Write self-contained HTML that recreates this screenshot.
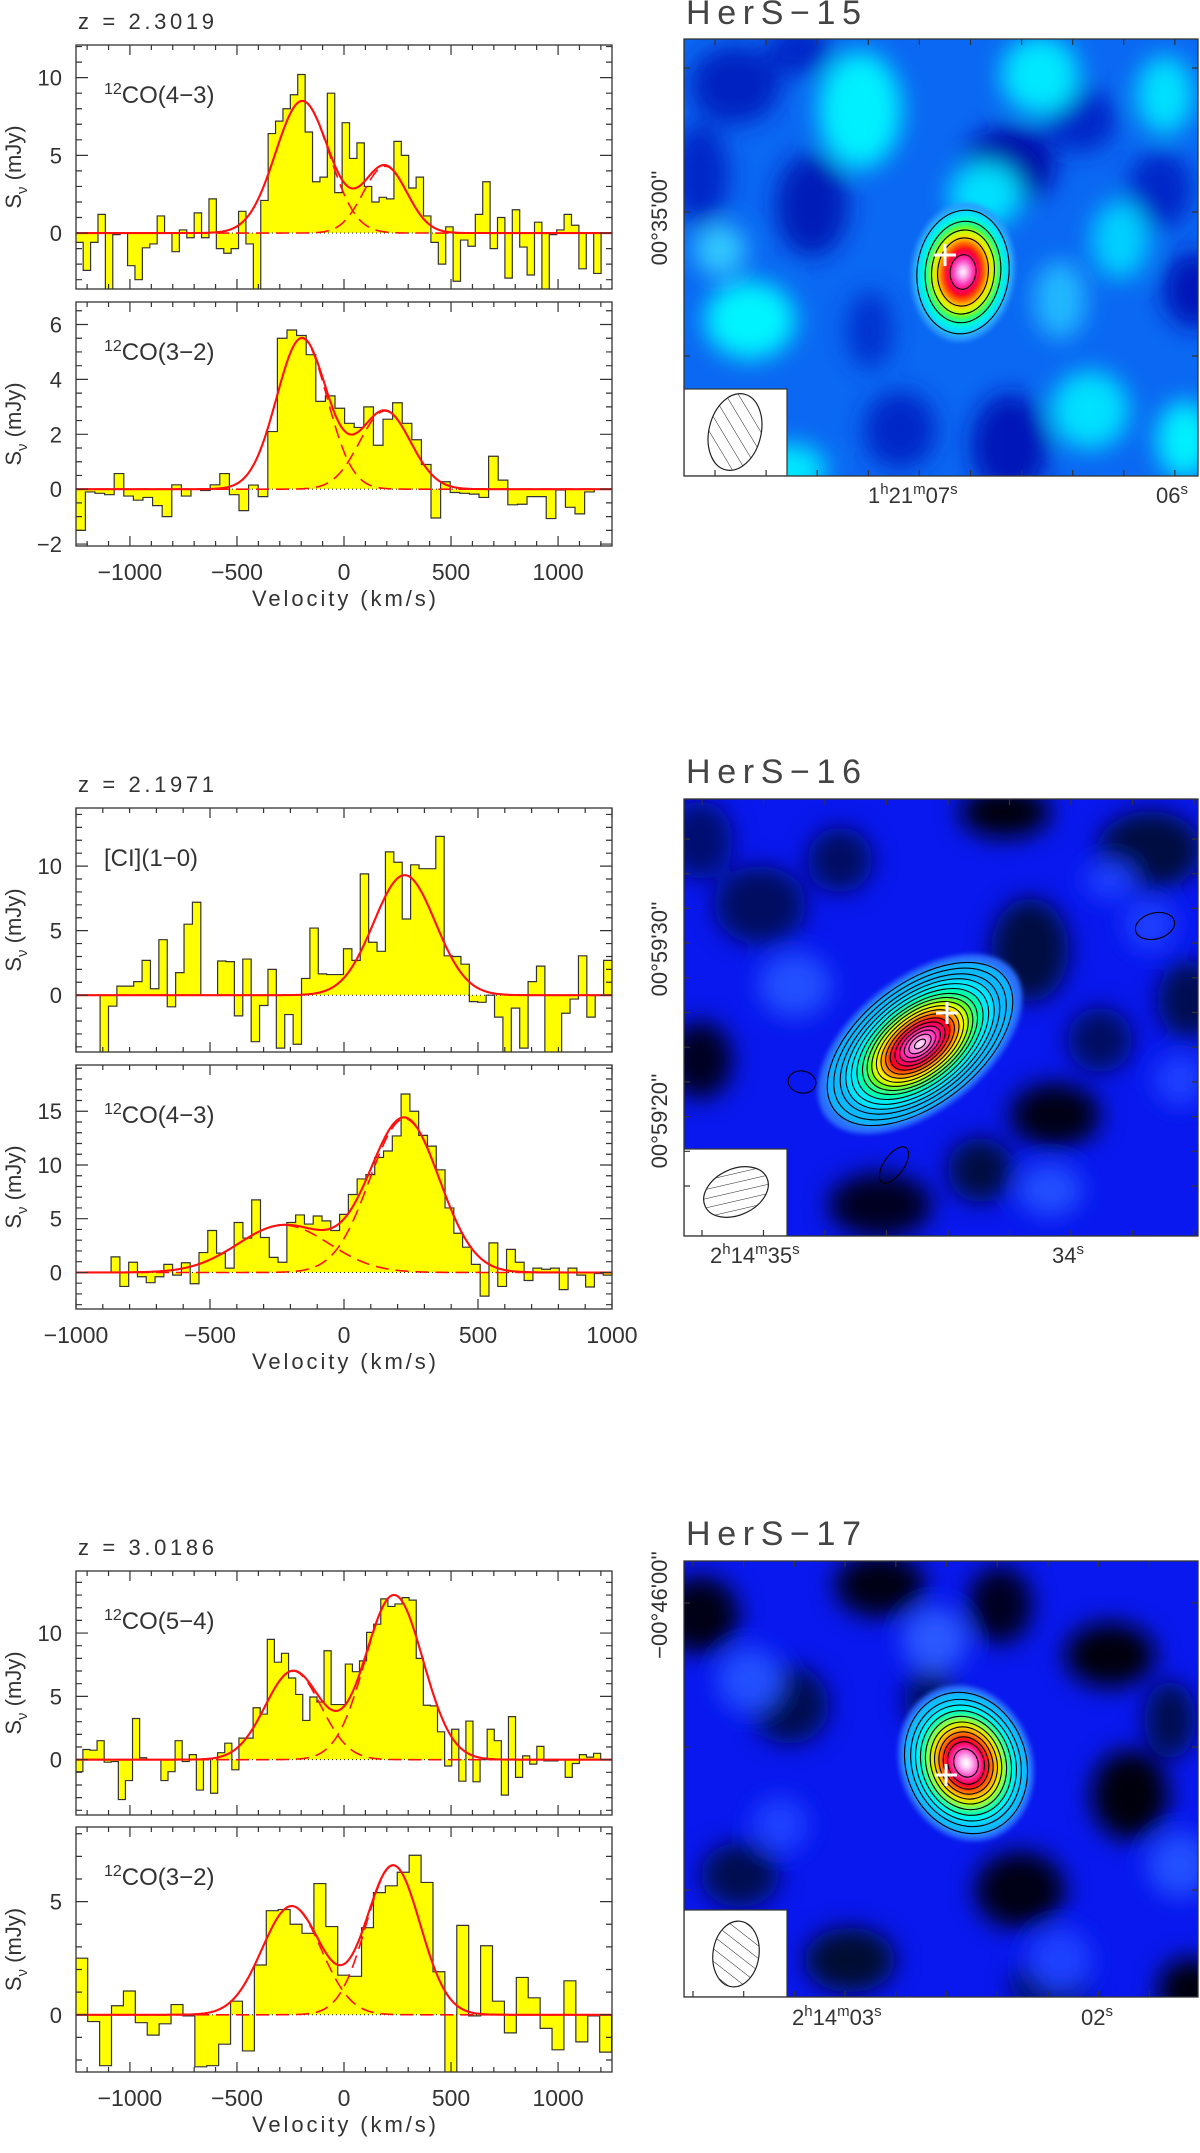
<!DOCTYPE html>
<html><head><meta charset="utf-8"><title>HerS spectra and maps</title>
<style>
html,body{margin:0;padding:0;background:#fff;}
svg{display:block;font-family:"Liberation Sans",sans-serif;}
</style></head>
<body>
<svg id="fig" width="1200" height="2153" viewBox="0 0 1200 2153" xmlns="http://www.w3.org/2000/svg">
<defs>
<filter id="blurBig" x="-20%" y="-20%" width="140%" height="140%"><feGaussianBlur stdDeviation="12"/></filter>
<filter id="blurSmall" x="-20%" y="-20%" width="140%" height="140%"><feGaussianBlur stdDeviation="2.5"/></filter>
<pattern id="hatchA" patternUnits="userSpaceOnUse" width="11" height="11" patternTransform="rotate(-45)"><line x1="0" y1="0" x2="0" y2="11" stroke="#222" stroke-width="1"/></pattern>
<pattern id="hatchB" patternUnits="userSpaceOnUse" width="9" height="9" patternTransform="rotate(-78)"><line x1="0" y1="0" x2="0" y2="9" stroke="#222" stroke-width="1"/></pattern>
<pattern id="hatchC" patternUnits="userSpaceOnUse" width="10" height="10" patternTransform="rotate(-60)"><line x1="0" y1="0" x2="0" y2="10" stroke="#222" stroke-width="1"/></pattern>
</defs>
</svg>
<script>
// ---------------- DATA ----------------
// HerS-15 (z=2.3019)
const hers15_co43_vals = [-0.6,-2.4,-0.6,1.2,-4,-0.1,0,-2.1,-3.0,-0.95,-0.7,1.1,0,-1.2,0.2,-0.3,1.3,-0.3,2.2,-1.0,-1.3,-1.0,1.4,-0.7,-4,2.1,6.4,7.2,8.0,8.9,10.2,6.5,3.3,3.6,9.0,2.6,7.1,4.8,5.8,3.0,2.0,2.3,2.2,5.9,5.0,2.9,3.6,1.1,-0.6,-2.0,0.4,-3.1,-0.45,-0.85,1.2,3.3,-1.0,1.0,-2.9,1.5,-0.9,-2.7,0.7,-4,-0.1,0.2,1.2,0.5,-2.3,0,-2.6];
const hers15_co43_vrange = [-1253, 1201];
const hers15_co43_fitCenters = [-195, 192];
const hers15_co43_fitAmps = [8.5, 4.3];
const hers15_co43_fitSigmas = [125, 102];

const hers15_co32_vals = [-1.5,-0.1,-0.15,-0.2,0.57,-0.25,-0.4,-0.3,-0.6,-1.0,0.16,-0.25,0,-0.05,0.16,0.57,-0.2,-0.78,0.15,-0.27,2.1,5.5,5.8,5.6,4.9,3.2,3.4,2.95,2.4,2.25,3.0,1.6,2.55,3.15,2.4,1.8,0.9,-1.05,0.27,-0.12,-0.15,-0.18,-0.3,1.2,0.33,-0.57,-0.55,-0.27,-0.27,-1.07,-0.03,-0.66,-0.9,-0.1];
const hers15_co32_vrange = [-1253, 1169];
const hers15_co32_fitCenters = [-197, 192];
const hers15_co32_fitAmps = [5.5, 2.85];
const hers15_co32_fitSigmas = [118, 119];

// HerS-16 (z=2.1971)
const hers16_ci10_vals = [-4.6,-0.85,0.7,0.7,1.05,2.7,0.5,4.3,-0.9,1.75,5.5,7.2,0,0,2.65,2.6,-1.6,2.8,-3.6,-0.8,2.0,-4.1,-1.5,-3.8,1.3,5.2,1.65,1.6,1.6,3.6,2.7,9.4,4.1,3.4,11.1,10.3,5.9,10.1,9.8,9.8,12.3,3.05,3.0,2.4,-0.5,-0.55,0,-1.7,-4.6,-1.0,-4.1,1.05,2.25,-4.6,-4.6,-1.4,-0.3,3.05,-1.7,0,2.7];
const hers16_ci10_vrange = [-910, 1000];
const hers16_ci10_fitCenters = [226];
const hers16_ci10_fitAmps = [9.3];
const hers16_ci10_fitSigmas = [115];

const hers16_co43_vals = [1.45,-1.3,0.95,-0.4,-0.95,-0.4,0.75,-0.25,0.9,-1.05,1.85,3.9,1.8,0.4,4.65,3.2,6.75,3.25,1.4,0.95,4.65,5.35,4.5,5.25,4.8,3.9,5.4,7.25,8.7,9.1,10.7,11.3,12.7,16.6,15.0,12.75,11.75,9.55,6.0,3.65,2.35,0.75,-2.2,2.75,-1.3,2.15,0.95,-0.75,0.4,0.3,0.4,-1.6,0.4,-0.25,-1.35,-0.1,-0.25];
const hers16_co43_vrange = [-869, 1000];
const hers16_co43_fitCenters = [-225, 226];
const hers16_co43_fitAmps = [4.4, 14.3];
const hers16_co43_fitSigmas = [170, 130];

// HerS-17 (z=3.0186)
const hers17_co54_vals = [-0.95,0.8,0.75,1.5,-0.2,-0.15,-3.15,-1.65,3.25,0.15,0,0,-1.65,-0.95,1.5,-0.15,0.4,-2.4,0.05,-2.65,0.55,1.3,-0.8,1.7,1.7,4.1,3.6,9.5,7.7,8.4,6.45,5.15,3.1,4.95,4.55,8.6,4.35,4.35,7.55,6.95,7.8,10.05,10.7,12.7,12.1,12.3,12.8,12.6,8.0,4.3,4.25,2.2,-0.5,2.4,-1.7,3.05,-1.75,0,2.4,1.5,-2.8,3.4,-1.4,0.3,-0.35,1.05,-0.1,-0.1,0,-1.4,-0.3,0.4,0.2,0.5];
const hers17_co54_vrange = [-1253, 1199];
const hers17_co54_fitCenters = [-238, 234];
const hers17_co54_fitAmps = [7.0, 13.0];
const hers17_co54_fitSigmas = [130, 135];

const hers17_co32_vals = [2.5,-0.3,-2.25,0.4,1.05,-0.35,-0.9,-0.4,0.45,-0.05,-2.3,-2.25,-1.3,0.6,-1.6,2.2,4.6,4.65,4.0,3.6,5.8,3.9,1.75,1.7,3.85,5.4,5.7,6.3,7.05,5.85,1.9,-2.6,3.95,-0.05,3.05,0.6,-0.8,1.65,0.75,-0.6,-1.55,1.5,-1.2,-0.05,-1.65];
const hers17_co32_vrange = [-1253, 1250];
const hers17_co32_fitCenters = [-245, 230];
const hers17_co32_fitAmps = [4.8, 6.6];
const hers17_co32_fitSigmas = [138, 126];

// tick labels
const xTickLabelsWide = [-1000, -500, 0, 500, 1000];
const xTickLabelsNarrow = [-1000, -500, 0, 500, 1000];

// ---------------- DRAWING ----------------
const NS = 'http://www.w3.org/2000/svg';
const svg = document.getElementById('fig');
function mk(tag, attrs, parent) {
  const e = document.createElementNS(NS, tag);
  for (const k in attrs) e.setAttribute(k, attrs[k]);
  (parent || svg).appendChild(e);
  return e;
}
const INK = '#333';
const PX0 = 76, PX1 = 612;
let clipN = 0;

function fmt(v){ return (v < 0 ? '\u2212' + Math.abs(v) : '' + v); }

function panel(cfg) {
  const g = mk('g', {});
  
  
  const xs = v => PX0 + (v - cfg.xmin) / (cfg.xmax - cfg.xmin) * (PX1 - PX0);
  const ys = v => cfg.bottom - (v - cfg.ymin) / (cfg.ymax - cfg.ymin) * (cfg.bottom - cfg.top);
  const cid = 'clip' + (clipN++);
  const cp = mk('clipPath', {id: cid}, g);
  mk('rect', {x: PX0, y: cfg.top, width: PX1 - PX0, height: cfg.bottom - cfg.top}, cp);
  const inner = mk('g', {'clip-path': 'url(#' + cid + ')'}, g);

  const vals = cfg.vals, n = vals.length;
  const w = (cfg.vrange[1] - cfg.vrange[0]) / n;
  const y0 = ys(0);
  let d = '';
  for (let i = 0; i < n; i++) {
    const a = xs(cfg.vrange[0] + i * w), b = xs(cfg.vrange[0] + (i + 1) * w);
    const yv = ys(vals[i]);
    const r = mk('rect', {x: a, y: Math.min(yv, y0), width: b - a + 0.3, height: Math.abs(yv - y0), fill: '#ffff00'}, inner);
    
    
    d += (i === 0 ? 'M' + a + ',' + y0 + ' V' + yv : ' V' + yv) + ' H' + b;
  }
  d += ' V' + y0;
  const outline = mk('path', {d: d, fill: 'none', stroke: INK, 'stroke-width': 1.2}, inner);
  
  

  const zl = mk('line', {x1: PX0, x2: PX1, y1: y0, y2: y0, stroke: '#222', 'stroke-width': 1, 'stroke-dasharray': '1 3'}, inner);
  
  

  const C = cfg.fc, A = cfg.fa, S = cfg.fs;
  const gauss = (k, v) => A[k] * Math.exp(-((v - C[k]) ** 2) / (2 * S[k] * S[k]));
  for (let k = 0; k < C.length; k++) {
    let pd = '';
    for (let v = cfg.xmin; v <= cfg.xmax; v += 5) pd += (pd ? ' L' : 'M') + xs(v).toFixed(1) + ',' + ys(gauss(k, v)).toFixed(1);
    const comp = mk('path', {d: pd, fill: 'none', stroke: '#ff1010', 'stroke-width': 1.6, 'stroke-dasharray': '13 7'}, inner);
    
    
  }
  let td = '';
  for (let v = cfg.xmin; v <= cfg.xmax; v += 4) {
    let s = 0; for (let k = 0; k < C.length; k++) s += gauss(k, v);
    td += (td ? ' L' : 'M') + xs(v).toFixed(1) + ',' + ys(s).toFixed(1);
  }
  const tot = mk('path', {d: td, fill: 'none', stroke: '#ff1010', 'stroke-width': 2.1}, inner);
  
  

  const fr = mk('rect', {x: PX0, y: cfg.top, width: PX1 - PX0, height: cfg.bottom - cfg.top, fill: 'none', stroke: INK, 'stroke-width': 1.3}, g);
  
  

  let tk = '';
  const xstart = Math.ceil(cfg.xmin / 100) * 100;
  for (let v = xstart; v <= cfg.xmax; v += 100) {
    const x = xs(v), L = (v % 500 === 0) ? 10 : 5;
    tk += 'M' + x + ',' + cfg.bottom + ' v' + (-L) + ' M' + x + ',' + cfg.top + ' v' + L + ' ';
  }
  const ystart = Math.ceil(cfg.ymin / cfg.yminor) * cfg.yminor;
  for (let v = ystart; v <= cfg.ymax + 1e-9; v += cfg.yminor) {
    const vv = Math.round(v * 100) / 100;
    const isMaj = cfg.ymajor.some(m => Math.abs(m - vv) < 1e-6);
    const y = ys(vv), L = isMaj ? 12 : 6;
    tk += 'M' + PX0 + ',' + y + ' h' + L + ' M' + PX1 + ',' + y + ' h' + (-L) + ' ';
  }
  const tp = mk('path', {d: tk, stroke: INK, 'stroke-width': 1.2, fill: 'none'}, g);
  
  

  cfg.ymajor.forEach(m => {
    const t = mk('text', {x: 62, y: ys(m) + 8, 'text-anchor': 'end', 'font-size': 22, fill: INK}, g);
    t.textContent = fmt(m);
    
    
  });
  const yc = (cfg.top + cfg.bottom) / 2;
  const yt = mk('text', {x: 0, y: 0, transform: 'translate(21,' + yc + ') rotate(-90)', 'text-anchor': 'middle', 'font-size': 22, fill: INK}, g);
  yt.innerHTML = 'S<tspan font-size="15" dy="6">\u03BD</tspan><tspan dy="-6"> (mJy)</tspan>';
  
  
  const ll = mk('text', {x: 104, y: cfg.top + 58, 'font-size': 24, fill: INK}, g);
  ll.innerHTML = cfg.label;
  
  

  if (cfg.xlabels) {
    cfg.xlabels.forEach(v => {
      const t = mk('text', {x: xs(v), y: cfg.bottom + 34, 'text-anchor': 'middle', 'font-size': 23, fill: INK}, g);
      t.textContent = fmt(v);
      
      
    });
    const xt = mk('text', {x: 344, y: cfg.bottom + 60, 'text-anchor': 'middle', 'font-size': 22, fill: INK, textLength: 184, lengthAdjust: 'spacing'}, g);
    xt.textContent = 'Velocity (km/s)';
    
    
  }
}

function zlabel(y, txt) {
  const t = mk('text', {x: 78, y: y, 'font-size': 22, fill: INK, textLength: 136, lengthAdjust: 'spacing'});
  t.textContent = txt;
  
  
}

const L12 = s => '<tspan font-size="16" dy="-9">12</tspan><tspan dy="9">' + s + '</tspan>';

zlabel(29, 'z = 2.3019');
panel({name: 'hers15-co43-panel', top: 45, bottom: 289, xmin: -1252, xmax: 1252, ymin: -3.6, ymax: 12.1, ymajor: [0,5,10], yminor: 1,
  vals: hers15_co43_vals, vrange: hers15_co43_vrange, fc: hers15_co43_fitCenters, fa: hers15_co43_fitAmps, fs: hers15_co43_fitSigmas, label: L12('CO(4\u22123)')});
panel({name: 'hers15-co32-panel', top: 302, bottom: 546, xmin: -1252, xmax: 1252, ymin: -2.07, ymax: 6.82, ymajor: [-2,0,2,4,6], yminor: 0.5,
  vals: hers15_co32_vals, vrange: hers15_co32_vrange, fc: hers15_co32_fitCenters, fa: hers15_co32_fitAmps, fs: hers15_co32_fitSigmas, label: L12('CO(3\u22122)'), xlabels: xTickLabelsWide});
zlabel(792, 'z = 2.1971');
panel({name: 'hers16-ci10-panel', top: 808, bottom: 1052, xmin: -1000, xmax: 1000, ymin: -4.4, ymax: 14.5, ymajor: [0,5,10], yminor: 1,
  vals: hers16_ci10_vals, vrange: hers16_ci10_vrange, fc: hers16_ci10_fitCenters, fa: hers16_ci10_fitAmps, fs: hers16_ci10_fitSigmas, label: '[CI](1\u22120)'});
panel({name: 'hers16-co43-panel', top: 1065, bottom: 1309, xmin: -1000, xmax: 1000, ymin: -3.4, ymax: 19.3, ymajor: [0,5,10,15], yminor: 1,
  vals: hers16_co43_vals, vrange: hers16_co43_vrange, fc: hers16_co43_fitCenters, fa: hers16_co43_fitAmps, fs: hers16_co43_fitSigmas, label: L12('CO(4\u22123)'), xlabels: xTickLabelsNarrow});
zlabel(1555, 'z = 3.0186');
panel({name: 'hers17-co54-panel', top: 1571, bottom: 1815, xmin: -1252, xmax: 1252, ymin: -4.37, ymax: 14.9, ymajor: [0,5,10], yminor: 1,
  vals: hers17_co54_vals, vrange: hers17_co54_vrange, fc: hers17_co54_fitCenters, fa: hers17_co54_fitAmps, fs: hers17_co54_fitSigmas, label: L12('CO(5\u22124)')});
panel({name: 'hers17-co32-panel', top: 1827, bottom: 2072, xmin: -1252, xmax: 1252, ymin: -2.53, ymax: 8.3, ymajor: [0,5], yminor: 1,
  vals: hers17_co32_vals, vrange: hers17_co32_vrange, fc: hers17_co32_fitCenters, fa: hers17_co32_fitAmps, fs: hers17_co32_fitSigmas, label: L12('CO(3\u22122)'), xlabels: xTickLabelsWide});

// ---------------- MAPS ----------------
const MX0 = 684, MX1 = 1198;
function drawMap(m) {
  const g = mk('g', {});
  
  
  const cid = 'mclip' + (clipN++);
  const cp = mk('clipPath', {id: cid}, g);
  mk('rect', {x: MX0, y: m.top, width: MX1 - MX0, height: m.bottom - m.top}, cp);
  const inner = mk('g', {'clip-path': 'url(#' + cid + ')'}, g);
  mk('rect', {x: MX0, y: m.top, width: MX1 - MX0, height: m.bottom - m.top, fill: m.bg}, inner);
  const bl = mk('g', {filter: 'url(#blurBig)'}, inner);
  m.blobs.forEach(b => {
    const e = mk('ellipse', {cx: b[0], cy: b[1], rx: b[2] * 1.3, ry: b[3] * 1.3, fill: b[4]}, bl);
    
    
  });
  const s = m.src;
  const sg = mk('g', {transform: 'translate(' + s.cx + ',' + s.cy + ') rotate(' + s.rot + ')'}, inner);
  
  
  const fg = mk('g', {filter: 'url(#blurSmall)'}, sg);
  s.fills.forEach(f => mk('ellipse', {cx: 0, cy: 0, rx: s.a * f[0], ry: s.b * f[0], fill: f[1]}, fg));
  s.contours.forEach(c => {
    const e = mk('ellipse', {cx: 0, cy: 0, rx: s.a * c, ry: s.b * c, fill: 'none', stroke: '#000', 'stroke-width': 1.1}, sg);
    
    
  });
  (m.extra || []).forEach(x => {
    const e = mk('ellipse', {cx: 0, cy: 0, rx: x[2], ry: x[3], transform: 'translate(' + x[0] + ',' + x[1] + ') rotate(' + x[4] + ')', fill: 'none', stroke: '#000', 'stroke-width': 1.1}, inner);
    
    
  });
  const cr = mk('path', {d: 'M' + (m.cross[0] - 11) + ',' + m.cross[1] + ' h22 M' + m.cross[0] + ',' + (m.cross[1] - 11) + ' v22', stroke: '#fff', 'stroke-width': 3}, inner);
  
  
  const bb = mk('rect', {x: MX0, y: m.bottom - 87, width: 103, height: 87, fill: '#fff', stroke: INK, 'stroke-width': 1.2}, inner);
  
  
  const be = mk('ellipse', {cx: 0, cy: 0, rx: m.beam[2], ry: m.beam[3], transform: 'translate(' + m.beam[0] + ',' + m.beam[1] + ') rotate(' + m.beam[4] + ')', fill: 'url(#' + m.hatch + ')', stroke: '#222', 'stroke-width': 1.2}, inner);
  
  
  const fr = mk('rect', {x: MX0, y: m.top, width: MX1 - MX0, height: m.bottom - m.top, fill: 'none', stroke: INK, 'stroke-width': 1.3}, g);
  
  
  let tk = '';
  m.xt.forEach(x => { tk += 'M' + x + ',' + m.top + ' v6 M' + x + ',' + m.bottom + ' v-6 '; });
  m.yt.forEach(y => { tk += 'M' + MX0 + ',' + y + ' h6 M' + MX1 + ',' + y + ' h-6 '; });
  const tp = mk('path', {d: tk, stroke: INK, 'stroke-width': 1.2}, g);
  
  
  const t = mk('text', {x: 686, y: m.titleY, 'font-size': 34, fill: '#444', textLength: 175, lengthAdjust: 'spacing'}, g);
  t.textContent = m.title;
  
  
  m.ra.forEach(r => {
    const e = mk('text', {x: r[0], y: r[1], 'font-size': 22, fill: INK}, g);
    e.innerHTML = r[2];
    
    
  });
  m.dec.forEach(r => {
    const e = mk('text', {x: 0, y: 0, transform: 'translate(667,' + r[0] + ') rotate(-90)', 'text-anchor': 'middle', 'font-size': 22, fill: INK}, g);
    e.textContent = r[1];
    
    
  });
}
const sup = s => '<tspan font-size="15" dy="-9">' + s + '</tspan><tspan dy="9">';
function raLabel(h, m, s) {
  let o = '';
  if (h) o += h + sup('h') + m + '</tspan>' + sup('m') + s + '</tspan>' + sup('s') + '</tspan>';
  else o += s + sup('s') + '</tspan>';
  return o;
}
function seq(a, step, n){ const r=[]; for(let i=0;i<n;i++) r.push(a+i*step); return r; }

const warmFills = [[1.12,'#2a9cff'],[1.0,'#00e6ff'],[0.88,'#00ffb0'],[0.78,'#40ff20'],[0.68,'#d8ff00'],[0.6,'#ffd000'],[0.52,'#ff6a00'],[0.44,'#ff0000'],[0.34,'#ff0060'],[0.25,'#ff30c0'],[0.16,'#ff90e6'],[0.08,'#fff0ff']];

drawMap({name: 'hers15-map', top: 39, bottom: 476, bg: '#0a68f2', title: 'HerS\u221215', titleY: 24,
  blobs: [[735,85,35,30,'#0020c0'],[812,205,28,40,'#001ab8'],[1010,165,35,30,'#0010a8'],[1080,120,28,25,'#0028c8'],[1195,290,25,30,'#0018b8'],[1010,445,30,40,'#0018b8'],[900,430,28,30,'#0028c8'],[700,175,22,40,'#0028c8'],[870,330,18,30,'#0030d0'],[800,50,25,20,'#0028c8'],[1160,190,25,30,'#0028c8'],
          [860,110,32,45,'#00f0ff'],[1040,75,30,30,'#00e8ff'],[750,320,35,30,'#00f4ff'],[1165,95,22,30,'#00e0ff'],[985,195,28,25,'#00e0ff'],[1120,240,22,30,'#00d0ff'],[790,470,28,20,'#00e8ff'],[1090,410,30,30,'#00e0ff'],[1185,440,22,30,'#00f0ff'],[720,250,20,20,'#30c8ff'],[1060,300,20,30,'#20b8ff']],
  src: {cx: 963, cy: 272, a: 46, b: 62, rot: 6, fills: warmFills, contours: [1.0, 0.82, 0.68, 0.55, 0.28]},
  cross: [945, 255], beam: [735, 432, 26, 39, 14], hatch: 'hatchA',
  xt: seq(715, 51.1, 10), yt: [68, 212, 356],
  ra: [[868, 503, raLabel('1','21','07')], [1156, 503, raLabel(null,null,'06')]],
  dec: [[218, '00\u00B035\'00\'\'']]});

drawMap({name: 'hers16-map', top: 799, bottom: 1236, bg: '#0818ee', title: 'HerS\u221216', titleY: 783,
  blobs: [[1005,812,35,20,'#000010'],[700,1060,25,30,'#000020'],[1055,1115,35,25,'#000018'],[1030,950,30,40,'#000840'],[880,1205,40,25,'#000020'],[1150,850,40,30,'#000840'],[760,905,35,30,'#000c60'],[700,840,25,30,'#001070'],[980,1170,25,25,'#000840'],[1190,1000,25,30,'#000a50'],[1100,1040,25,25,'#000c60'],[840,860,25,25,'#000c60'],
          [795,985,28,25,'#2050ff'],[1050,1190,25,20,'#2050ff'],[1150,925,20,20,'#1a40ff'],[1180,1080,20,20,'#1a40ff'],[1110,880,20,15,'#1a40ff']],
  src: {cx: 920, cy: 1044, a: 108, b: 60, rot: -38, fills: [[1.1,'#2a70ff'],[1.0,'#10b8ff'],[0.8,'#00e8ff'],[0.68,'#00ffa0'],[0.58,'#60ff00'],[0.5,'#ffff00'],[0.43,'#ff9000'],[0.36,'#ff0000'],[0.28,'#ff0060'],[0.2,'#ff30c0'],[0.12,'#ff90e6'],[0.05,'#fff0ff']],
    contours: [1.0,0.93,0.86,0.8,0.74,0.68,0.62,0.57,0.52,0.47,0.42,0.37,0.32,0.27,0.22,0.17,0.12,0.06]},
  extra: [[1155, 926, 20, 13, -15], [802, 1082, 14, 11, 10], [894, 1165, 10, 21, 35]],
  cross: [947, 1013], beam: [736, 1192, 34, 23, -25], hatch: 'hatchB',
  xt: seq(702, 61.5, 9), yt: seq(839, 34.7, 11),
  ra: [[710, 1263, raLabel('2','14','35')], [1052, 1263, raLabel(null,null,'34')]],
  dec: [[949, '00\u00B059\'30\'\''], [1121, '00\u00B059\'20\'\'']]});

drawMap({name: 'hers17-map', top: 1561, bottom: 1997, bg: '#0818ee', title: 'HerS\u221217', titleY: 1545,
  blobs: [[700,1615,30,30,'#000018'],[880,1585,35,25,'#000018'],[1000,1605,25,30,'#000020'],[1110,1655,35,25,'#000010'],[790,1705,30,30,'#000c50'],[1130,1795,30,35,'#000010'],[1020,1890,35,30,'#000018'],[740,1875,30,25,'#000c50'],[850,1960,35,25,'#000830'],[1190,1990,25,25,'#000010'],[1170,1720,20,30,'#000c50'],[930,1700,20,25,'#000c60'],[1050,1985,30,20,'#000c50'],
          [750,1680,25,25,'#2050ff'],[935,1640,25,25,'#2a58ff'],[1180,1865,25,25,'#2050ff'],[780,1825,22,22,'#1a40ff'],[1060,1960,25,25,'#1a40ff']],
  src: {cx: 966, cy: 1763, a: 60, b: 72, rot: -20, fills: [[1.1,'#2a70ff'],[1.0,'#10c0ff'],[0.85,'#00f0ff'],[0.75,'#00ffa0'],[0.65,'#90ff00'],[0.56,'#ffe000'],[0.48,'#ff8000'],[0.4,'#ff0000'],[0.3,'#ff0070'],[0.22,'#ff50d0'],[0.14,'#ffb0f0'],[0.07,'#ffffff']],
    contours: [1.0,0.9,0.82,0.74,0.66,0.58,0.51,0.44,0.37,0.3,0.2]},
  cross: [946, 1775], beam: [736, 1954, 23, 33, 8], hatch: 'hatchC',
  xt: seq(693, 50.7, 10), yt: [1603, 1747, 1890],
  ra: [[792, 2025, raLabel('2','14','03')], [1081, 2025, raLabel(null,null,'02')]],
  dec: [[1605, '\u221200\u00B046\'00\'\'']]});
</script>
</body></html>
